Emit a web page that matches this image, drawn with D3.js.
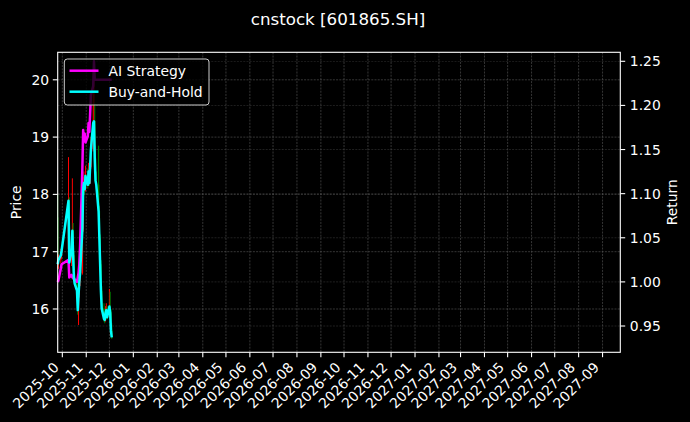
<!DOCTYPE html>
<html>
<head>
<meta charset="utf-8">
<script src="https://cdn.jsdelivr.net/npm/d3@7"></script>
<style>
  html, body { margin: 0; padding: 0; background: #000; }
  svg { display: block; font-family: "DejaVu Sans", sans-serif; }
</style>
</head>
<body>
<svg id="chart" width="690" height="422"></svg>
<script>
const title = "cnstock [601865.SH]";
const dates = ["2025-09-25","2025-09-26","2025-09-29","2025-09-30","2025-10-09","2025-10-10","2025-10-13","2025-10-14","2025-10-15","2025-10-16","2025-10-17","2025-10-20","2025-10-21","2025-10-22","2025-10-23","2025-10-24","2025-10-27","2025-10-28","2025-10-29","2025-10-30","2025-10-31","2025-11-03","2025-11-04","2025-11-05","2025-11-06","2025-11-07","2025-11-10","2025-11-11","2025-11-12","2025-11-13","2025-11-14","2025-11-17","2025-11-18","2025-11-19","2025-11-20","2025-11-21","2025-11-24","2025-11-25","2025-11-26","2025-11-27","2025-11-28","2025-12-01","2025-12-02","2025-12-03","2025-12-04"];
const open  = [17.60,16.78,16.86,16.94,17.05,17.80,16.81,17.02,17.37,16.94,16.55,16.45,16.32,15.98,16.24,16.48,16.63,17.40,18.09,18.20,18.09,18.32,18.17,18.40,18.20,18.48,18.79,19.25,19.28,18.63,18.25,18.17,17.71,17.25,16.78,16.32,16.01,15.83,15.81,15.94,15.98,15.86,16.04,15.94,15.63];
const high  = [18.00,16.95,17.05,17.10,18.65,17.95,17.10,18.28,17.50,17.00,16.62,16.50,16.38,16.30,16.55,16.70,17.50,18.30,18.40,18.35,18.50,18.45,18.55,18.50,18.60,19.00,19.80,20.24,19.60,18.85,18.40,18.85,17.80,17.30,16.85,16.40,16.10,15.95,16.05,16.10,16.05,16.35,16.30,16.00,15.75];
const low   = [16.72,16.70,16.80,16.88,17.00,16.75,16.75,16.95,16.90,16.50,16.40,16.25,15.90,15.72,16.20,16.40,16.60,17.35,18.00,18.00,18.05,18.10,18.15,18.15,18.18,18.45,18.75,19.10,18.50,18.20,18.10,17.65,17.20,16.75,16.28,15.95,15.78,15.75,15.78,15.88,15.82,15.84,15.90,15.60,15.48];
const close = [16.78,16.86,16.94,17.02,17.89,16.81,17.02,17.37,16.94,16.55,16.45,16.32,15.98,16.24,16.48,16.63,17.40,18.09,18.20,18.09,18.32,18.17,18.40,18.20,18.48,18.79,19.25,19.28,18.63,18.25,18.17,17.71,17.25,16.78,16.32,16.01,15.83,15.81,15.94,15.98,15.86,16.04,15.94,15.63,15.50];
const aiStrategy = [1.000,1.002,1.015,1.020,1.025,1.005,1.008,1.005,1.005,1.003,1.003,1.000,1.005,1.010,1.020,1.040,1.130,1.172,1.160,1.168,1.158,1.165,1.180,1.170,1.190,1.212,1.222,1.250,1.229,1.229,1.229,1.229,1.229,1.229,1.229,1.229,1.229,1.229,1.229,1.229,1.229,1.229,1.229,1.229,1.229];
const buyHold    = [1.020,1.025,1.030,1.035,1.092,1.022,1.035,1.058,1.030,1.005,0.998,0.990,0.968,0.985,1.000,1.010,1.060,1.105,1.112,1.105,1.120,1.110,1.125,1.112,1.130,1.150,1.180,1.182,1.140,1.115,1.110,1.080,1.050,1.020,0.990,0.970,0.958,0.957,0.965,0.968,0.960,0.972,0.965,0.945,0.937];
const xTickLabels = ["2025-10","2025-11","2025-12","2026-01","2026-02","2026-03","2026-04","2026-05","2026-06","2026-07","2026-08","2026-09","2026-10","2026-11","2026-12","2027-01","2027-02","2027-03","2027-04","2027-05","2027-06","2027-07","2027-08","2027-09"];
const priceTicks = [16, 17, 18, 19, 20];
const returnTicks = [0.95, 1.00, 1.05, 1.10, 1.15, 1.20, 1.25];
const xDomain = ["2025-09-25", "2027-09-24"];
const priceDomain = [15.244, 20.48];
const returnDomain = [0.9202, 1.2602];
const seriesNames = ["AI Strategy", "Buy-and-Hold"];
const seriesColors = ["#ff00ff", "#00ffff"];

const svg = d3.select("#chart");
const L = 57.7, R = 620.3, T = 52.3, B = 352.3;
const parse = d3.utcParse("%Y-%m-%d");
const parseM = d3.utcParse("%Y-%m");
const x = d3.scaleUtc().domain(xDomain.map(parse)).range([L, R]);
const yP = d3.scaleLinear().domain(priceDomain).range([B, T]);
const yR = d3.scaleLinear().domain(returnDomain).range([B, T]);
const dd = dates.map(parse);
const fs = 13.9;

svg.append("rect").attr("width", 690).attr("height", 422).attr("fill", "#000");

// grid
const grid = svg.append("g").attr("stroke", "#5a5a5a").attr("stroke-width", 0.6).attr("stroke-dasharray", "2,1.2");
xTickLabels.forEach(t => {
  const xx = x(parseM(t));
  grid.append("line").attr("x1", xx).attr("x2", xx).attr("y1", T).attr("y2", B);
});
priceTicks.forEach(v => {
  grid.append("line").attr("x1", L).attr("x2", R).attr("y1", yP(v)).attr("y2", yP(v));
});
returnTicks.forEach(v => {
  grid.append("line").attr("x1", L).attr("x2", R).attr("y1", yR(v)).attr("y2", yR(v)).attr("opacity", 0.6);
});

// candles
const cg = svg.append("g");
dates.forEach((d, i) => {
  const col = close[i] >= open[i] ? "#ff0000" : "#008000";
  const xx = x(dd[i]);
  cg.append("line").attr("x1", xx).attr("x2", xx).attr("y1", yP(high[i])).attr("y2", yP(low[i]))
    .attr("stroke", col).attr("stroke-width", 1);
  const y1 = yP(Math.max(open[i], close[i])), y2 = yP(Math.min(open[i], close[i]));
  cg.append("rect").attr("x", xx - 0.7).attr("width", 1.4).attr("y", y1).attr("height", Math.max(0.5, y2 - y1))
    .attr("fill", col);
});

// lines
const line = vals => d3.line().x((d, i) => x(dd[i])).y(d => yR(d))(vals);
svg.append("path").attr("d", line(aiStrategy)).attr("fill", "none").attr("stroke", seriesColors[0])
  .attr("stroke-width", 2.5).attr("stroke-linejoin", "round");
svg.append("path").attr("d", line(buyHold)).attr("fill", "none").attr("stroke", seriesColors[1])
  .attr("stroke-width", 2.5).attr("stroke-linejoin", "round");

// spines
svg.append("rect").attr("x", L).attr("y", T).attr("width", R - L).attr("height", B - T)
  .attr("fill", "none").attr("stroke", "#fff").attr("stroke-width", 1.1);

// bottom axis
const xa = svg.append("g");
xTickLabels.forEach(t => {
  const xx = x(parseM(t));
  xa.append("line").attr("x1", xx).attr("x2", xx).attr("y1", B).attr("y2", B + 4.9).attr("stroke", "#fff").attr("stroke-width", 1.1);
  xa.append("text").attr("transform", `translate(${xx - 2.5},${B + 16}) rotate(-45)`)
    .attr("text-anchor", "end").attr("fill", "#fff").attr("font-size", fs).text(t);
});

// left axis
const la = svg.append("g");
priceTicks.forEach(v => {
  const yy = yP(v);
  la.append("line").attr("x1", L - 4.9).attr("x2", L).attr("y1", yy).attr("y2", yy).attr("stroke", "#fff").attr("stroke-width", 1.1);
  la.append("text").attr("x", L - 8.5).attr("y", yy).attr("dy", "0.36em").attr("text-anchor", "end")
    .attr("fill", "#fff").attr("font-size", fs).text(d3.format("d")(v));
});
// right axis
const ra = svg.append("g");
returnTicks.forEach(v => {
  const yy = yR(v);
  ra.append("line").attr("x1", R).attr("x2", R + 4.9).attr("y1", yy).attr("y2", yy).attr("stroke", "#fff").attr("stroke-width", 1.1);
  ra.append("text").attr("x", R + 9.5).attr("y", yy).attr("dy", "0.36em").attr("text-anchor", "start")
    .attr("fill", "#fff").attr("font-size", fs).text(d3.format(".2f")(v));
});

// axis labels
svg.append("text").attr("transform", `translate(16.5,${(T + B) / 2}) rotate(-90)`).attr("dy", "0.35em")
  .attr("text-anchor", "middle").attr("fill", "#fff").attr("font-size", fs).text("Price");
svg.append("text").attr("transform", `translate(672.5,${(T + B) / 2}) rotate(-90)`).attr("dy", "0.35em")
  .attr("text-anchor", "middle").attr("fill", "#fff").attr("font-size", fs).text("Return");

// title
svg.append("text").attr("x", 338).attr("y", 24.5).attr("text-anchor", "middle").attr("fill", "#fff")
  .attr("font-size", 16.7).text(title);

// legend
const lg = svg.append("g");
lg.append("rect").attr("x", 64.3).attr("y", 59).attr("width", 144.7).attr("height", 46).attr("rx", 3)
  .attr("fill", "#000").attr("fill-opacity", 0.8).attr("stroke", "#cccccc").attr("stroke-width", 1);
seriesNames.forEach((n, i) => {
  const yy = 70.7 + i * 21;
  lg.append("line").attr("x1", 69.5).attr("x2", 98.5).attr("y1", yy).attr("y2", yy)
    .attr("stroke", seriesColors[i]).attr("stroke-width", 2.5);
  lg.append("text").attr("x", 108.5).attr("y", yy).attr("dy", "0.36em").attr("fill", "#fff")
    .attr("font-size", fs).text(n);
});
</script>
</body>
</html>
